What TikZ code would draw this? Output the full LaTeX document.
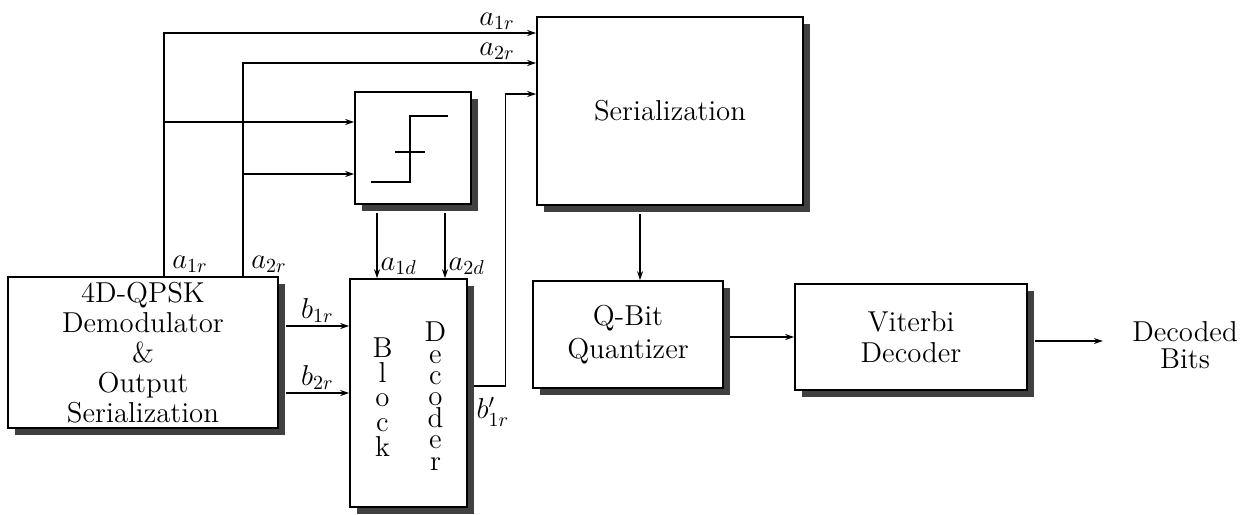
\documentclass[tikz,border=0pt]{standalone}
\usepackage{amsmath}
\usepackage{tikz}
\usetikzlibrary{arrows.meta, calc, shadows}

\tikzset{
  unit/.style={draw, line width=0.8pt, fill=white, inner sep=0pt, align=center,
    drop shadow={shadow xshift=3.5pt, shadow yshift=-3.5pt, fill=black!75, opacity=1}},
  sig/.style={->, line width=0.6pt},
  lbl/.style={inner sep=1.5pt},
  letters/.style={align=center, inner sep=0pt},
}

\begin{document}
\begin{tikzpicture}[x=0.5pt, y=-0.5pt, >={Stealth[length=4.5pt,width=3pt]},
    font=\fontsize{14.4}{15.5}\selectfont]
    \useasboundingbox (0,0) rectangle (1252,514);

    % Blocks
    \node[unit, minimum width=135pt, minimum height=75.5pt, font=\fontsize{14.4}{15}\selectfont]
        (demod) at (143,352.5) {4D-QPSK\\Demodulator\\\&\\Output\\Serialization};
    \node[unit, minimum width=58pt, minimum height=56pt] (slicer) at (413,148) {};
    \node[unit, minimum width=58.5pt, minimum height=114pt] (block) at (408.5,393) {};
    \node[unit, minimum width=133pt, minimum height=94pt] (serial) at (670,111) {Serialization};
    \node[unit, minimum width=95pt, minimum height=53.5pt, font=\fontsize{14.4}{16.5}\selectfont]
        (qbit) at (628,334.5) {Q-Bit\\Quantizer};
    \node[unit, minimum width=116pt, minimum height=53pt] (viterbi) at (911,337) {Viterbi\\Decoder};
    \node[letters, font=\fontsize{14.4}{13.5}\selectfont] (bits) at (1185,345) {Decoded\\Bits};

    % Block decoder lettering
    \node[letters, font=\fontsize{14.4}{12.3}\selectfont] (blockword) at ($(block.center)+(-26,4)$) {B\\l\\o\\c\\k};
    \node[letters, font=\fontsize{14.4}{10.7}\selectfont] (decword) at ($(block.center)+(27,3)$) {D\\e\\c\\o\\d\\e\\r};

    % Slicer symbol
    \draw[line width=0.8pt] ([shift={(-42,34)}]slicer.center) -- ++(39,0) -- ++(0,-66) -- ++(38,0);
    \draw[line width=0.8pt] ([shift={(-18,4)}]slicer.center) -- ++(30,0);

    % a1r and a2r
    \coordinate (t1) at (164,33);
    \coordinate (t2) at (243,63);
    \coordinate (s1) at ($(slicer.west)+(0,-26)$);
    \coordinate (s2) at ($(slicer.west)+(0,26)$);
    \draw[sig] (demod.north -| t1) -- (t1) -- (serial.west |- t1);
    \draw[sig] (demod.north -| t2) -- (t2) -- (serial.west |- t2);
    \draw[sig] (t1 |- s1) -- (s1);
    \draw[sig] (t2 |- s2) -- (s2);
    \node[lbl, anchor=south east] (a1top) at ($(serial.west |- t1)+(-18,0)$) {$a_{1r}$};
    \node[lbl, anchor=south east] (a2top) at ($(serial.west |- t2)+(-18,0)$) {$a_{2r}$};
    \node[lbl, anchor=south west] (a1low) at ($(demod.north -| t1)+(5,0)$) {$a_{1r}$};
    \node[lbl, anchor=south west] (a2low) at ($(demod.north -| t2)+(5,0)$) {$a_{2r}$};

    % Slicer to block decoder
    \coordinate (d1) at ($(slicer.south)+(-36,8)$);
    \coordinate (d2) at ($(slicer.south)+(32,8)$);
    \draw[sig] (d1) -- (d1 |- block.north) node[lbl, anchor=south west] {$a_{1d}$};
    \draw[sig] (d2) -- (d2 |- block.north) node[lbl, anchor=south west] {$a_{2d}$};

    % b1r and b2r
    \coordinate (b1) at ($(block.west)+(0,-67)$);
    \draw[sig] ($(demod.east |- b1)+(7,0)$) -- (b1) node[lbl, midway, above] {$b_{1r}$};
    \draw[sig] ($(demod.east |- block.west)+(7,0)$) -- (block.west) node[lbl, midway, above] {$b_{2r}$};

    % b'1r back to serialization
    \coordinate (s3) at ($(serial.west)+(0,-17)$);
    \draw[sig] ($(block.east)+(6,-7)$) -- ++(32,0) coordinate (bc) |- (s3);
    \node[lbl, anchor=north] (bout) at ($(bc)+(-13,8)$) {$b'_{1r}$};

    % Lower chain
    \coordinate (sq) at ($(serial.south)+(-30,8)$);
    \draw[sig] (sq) -- (sq |- qbit.north);
    \draw[sig] ($(qbit.east |- viterbi.west)+(6,0)$) -- (viterbi.west);
    \draw[sig] ($(viterbi.east)+(7,4)$) coordinate (vo) -- ($(vo -| bits.west)+(-29,0)$);
\end{tikzpicture}
\end{document}
